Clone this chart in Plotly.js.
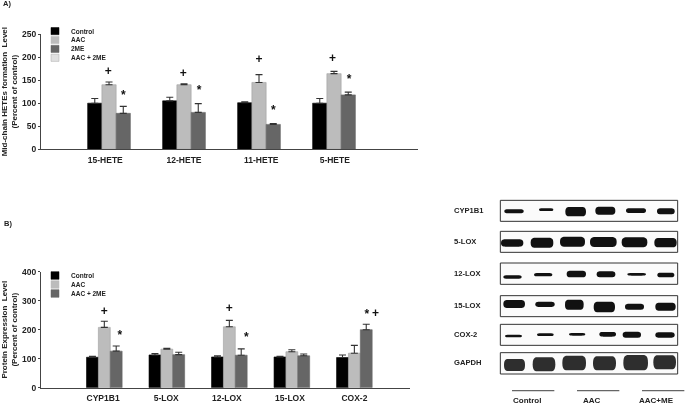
<!DOCTYPE html>
<html>
<head>
<meta charset="utf-8">
<script src="https://cdn.plot.ly/plotly-3.0.1.min.js"></script>
<style>
html,body{margin:0;padding:0;background:#fff}
/* the reference is a soft scan */
#chart{filter:blur(0.35px)}
</style>
</head>
<body>
<div id="chart" style="width:685px;height:404px"></div>
<script>
// panel A
const hetes = ["15-HETE", "12-HETE", "11-HETE", "5-HETE"];
const hetesTickAt = [-0.05, 0, 0.03, 0.01];
const hetesControl = [100, 105, 101, 100];
const hetesControlErr = [10, 8, 2, 10];
const hetesAAC = [140, 140, 145, 164];
const hetesAACErr = [6, 2, 17, 5];
const hetes2ME = [78, 80, 54, 118];
const hetes2MEErr = [15, 19, 2, 6];
const hetesLegend = ["Control", "AAC", "2ME", "AAC + 2ME"];
const hetesPlusX = [-0.01, -0.01, 0, -0.02];
const hetesPlusY = [168, 163, 194, 195];
const hetesStarX = [0.19, 0.2, 0.19, 0.2];
const hetesStarY = [116, 127, 82, 151];

// panel B
const proteins = ["CYP1B1", "5-LOX", "12-LOX", "15-LOX", "COX-2"];
const proteinsTickAt = [-0.02, -0.01, -0.04, -0.03, 0];
const protControl = [105, 113, 106, 106, 104];
const protControlErr = [3, 5, 4, 2, 9];
const protAAC = [208, 133, 210, 124, 119];
const protAACErr = [21, 3, 22, 7, 27];
const protAAC2ME = [126, 114, 112, 110, 200];
const protAAC2MEErr = [18, 8, 22, 6, 19];
const protLegend = ["Control", "AAC", "AAC + 2ME"];
const protPlusGroup = [0, 2, 4];
const protPlusX = [0, 0, 0.34];
const protPlusY = [260, 271, 255];
const protStarGroup = [0, 2, 4];
const protStarX = [0.25, 0.27, 0.2];
const protStarY = [179, 172, 250];

// blots, read in the blot panel's own units
const blotRows = ["CYP1B1", "5-LOX", "12-LOX", "15-LOX", "COX-2", "GAPDH"];
const blotGroups = ["Control", "AAC", "AAC+ME"];
const blotRowTop = [61, 154, 249, 347, 433, 518];
const blotRowBottom = [124, 217, 313, 410, 496, 582];
const bandLeft = [
  [193, 297, 376, 466, 558, 651],
  [183, 272, 360, 450, 545, 643],
  [190, 282, 380, 470, 562, 652],
  [190, 286, 375, 461, 555, 646],
  [195, 291, 387, 478, 548, 646],
  [192, 278, 367, 459, 550, 640]
];
const bandRight = [
  [251, 340, 438, 526, 618, 704],
  [250, 340, 435, 530, 622, 710],
  [245, 337, 438, 526, 618, 703],
  [255, 344, 431, 525, 612, 707],
  [246, 341, 436, 528, 603, 704],
  [255, 346, 438, 528, 624, 708]
];
const bandMid = [
  [94, 89, 95, 92, 92, 94],
  [189, 188, 185, 186, 187, 188],
  [291, 284, 282, 283, 283, 285],
  [372, 373, 374, 381, 380, 380],
  [468, 464, 463, 463, 464, 465],
  [555, 553, 549, 550, 548, 547]
];
const bandThick = [
  [12, 8, 28, 24, 14, 18],
  [22, 30, 30, 30, 30, 28],
  [10, 10, 20, 18, 8, 14],
  [24, 16, 30, 32, 18, 24],
  [8, 8, 8, 14, 18, 16],
  [36, 42, 44, 42, 46, 42]
];

const colors = ["#000000", "#bcbcbc", "#666666", "#e0e0e0"];
const textColor = "#222222";
const boldFont = "Liberation Sans";
const W = 685, H = 404;

function barTrace(name, xs, ys, errs, color, xa, ya, capW) {
  return {
    type: "bar", name: name, x: xs, y: ys, xaxis: xa, yaxis: ya,
    marker: { color: color, line: { color: color === "#bcbcbc" ? "#a0a0a0" : color, width: 0.6 } },
    error_y: { type: "data", symmetric: false, array: errs, arrayminus: errs.map(() => 0),
      color: "#333333", thickness: 1.1, width: capW },
    showlegend: false, hoverinfo: "skip"
  };
}

function markTrace(mark, xs, ys, xa, ya) {
  return {
    type: "scatter", mode: "text", x: xs, y: ys, text: xs.map(() => mark), xaxis: xa, yaxis: ya,
    textposition: "middle center", cliponaxis: false,
    textfont: { family: boldFont, size: 12, color: "#111111", weight: 700 },
    showlegend: false, hoverinfo: "skip"
  };
}

const groupsA = hetes.map((_, i) => i);
const groupsB = proteins.map((_, i) => i);

const data = [
  barTrace("Control", groupsA, hetesControl, hetesControlErr, colors[0], "x", "y", 3.5),
  barTrace("AAC", groupsA, hetesAAC, hetesAACErr, colors[1], "x", "y", 3.5),
  barTrace("2ME", groupsA, hetes2ME, hetes2MEErr, colors[2], "x", "y", 3.5),
  markTrace("+", groupsA.map((g, i) => g + hetesPlusX[i]), hetesPlusY, "x", "y"),
  markTrace("*", groupsA.map((g, i) => g + hetesStarX[i]), hetesStarY, "x", "y"),

  barTrace("Control", groupsB, protControl, protControlErr, colors[0], "x2", "y2", 3.5),
  barTrace("AAC", groupsB, protAAC, protAACErr, colors[1], "x2", "y2", 3.5),
  barTrace("AAC + 2ME", groupsB, protAAC2ME, protAAC2MEErr, colors[2], "x2", "y2", 3.5),
  markTrace("+", protPlusGroup.map((g, i) => g + protPlusX[i]), protPlusY, "x2", "y2"),
  markTrace("*", protStarGroup.map((g, i) => g + protStarX[i]), protStarY, "x2", "y2"),

  // keeps the blot axes alive, the bands themselves are shapes
  { type: "scatter", mode: "markers", x: [0], y: [0], xaxis: "x3", yaxis: "y3",
    marker: { opacity: 0 }, showlegend: false, hoverinfo: "skip" }
];

function yTitle(text) {
  return { text: text, font: { family: boldFont, size: 8, color: textColor, weight: 700 }, standoff: 6 };
}

const axisBase = {
  showgrid: false, zeroline: false, showline: true, linecolor: "#444444", linewidth: 1.2,
  tickfont: { family: boldFont, size: 8.5, color: textColor, weight: 700 }
};

const shapes = [];
const annotations = [];

function label(text, x, y, size, anchor, xref, yref) {
  annotations.push({
    text: text, x: x, y: y, xref: xref || "paper", yref: yref || "paper",
    xanchor: anchor || "left", yanchor: "middle", showarrow: false,
    font: { family: boldFont, size: size, color: textColor, weight: 700 }
  });
}

// hand built legends, the swatches are square in the picture
function legend(names, swatchTop, step, swatchH) {
  names.forEach((n, i) => {
    const top = swatchTop + i * step;
    shapes.push({ type: "rect", xref: "paper", yref: "paper",
      x0: 51 / W, x1: 59 / W, y0: 1 - top / H, y1: 1 - (top + swatchH) / H,
      fillcolor: colors[i], line: { color: colors[i] === "#e0e0e0" ? "#aaaaaa" : colors[i], width: 0.5 } });
    label(n, 69 / W, 1 - (top + swatchH / 2) / H, 6.5);
  });
}
legend(hetesLegend, 27.5, 8.9, 7.2);
legend(protLegend, 271.7, 9, 7.6);

label("A)", 1 / W, 1 - 3.5 / H, 7.5);
label("B)", 2 / W, 1 - 223.5 / H, 7.5);

// blunt ended band, an ellipse comes out too pointed
function bandPath(l, r, mid, thick) {
  const t = mid - thick / 2, b = mid + thick / 2, k = (r - l) * 0.12;
  return `M${l},${mid} C${l},${t} ${l + k},${t} ${l + 2 * k},${t} L${r - 2 * k},${t} C${r - k},${t} ${r},${t} ${r},${mid} ` +
    `C${r},${b} ${r - k},${b} ${r - 2 * k},${b} L${l + 2 * k},${b} C${l + k},${b} ${l},${b} ${l},${mid} Z`;
}

// blot panel
blotRows.forEach((row, r) => {
  shapes.push({ type: "rect", xref: "x3", yref: "y3", x0: 181, x1: 713,
    y0: blotRowTop[r], y1: blotRowBottom[r], fillcolor: "#fbfbfb",
    line: { color: "#333333", width: 1 } });
  bandLeft[r].forEach((left, b) => {
    shapes.push({ type: "path", xref: "x3", yref: "y3",
      path: bandPath(left, bandRight[r][b], bandMid[r][b], bandThick[r][b]),
      fillcolor: row === "GAPDH" ? "#2e2e2e" : "#111111", line: { width: 0 } });
  });
  label(row, 36, (blotRowTop[r] + blotRowBottom[r]) / 2 - 2, 7.6, "left", "x3", "y3");
});
blotGroups.forEach((g, i) => {
  const left = 216 + i * 195;
  shapes.push({ type: "line", xref: "x3", yref: "y3", x0: left, x1: left + 127, y0: 632, y1: 632,
    line: { color: "#666666", width: 1.2 } });
  label(g, left + 44, 661, 8, "center", "x3", "y3");
});

const layout = {
  width: W, height: H,
  margin: { l: 0, r: 0, t: 0, b: 0 },
  paper_bgcolor: "#ffffff", plot_bgcolor: "rgba(0,0,0,0)",
  barmode: "group", bargap: 0.43, bargroupgap: 0,
  showlegend: false,
  xaxis: Object.assign({}, axisBase, {
    domain: [41 / W, 418 / W], anchor: "y", range: [-0.907, 4.12],
    tickmode: "array", tickvals: hetesTickAt.map((d, i) => i + d), ticktext: hetes,
    ticks: "outside", ticklen: 2, tickcolor: "rgba(0,0,0,0)"
  }),
  yaxis: Object.assign({}, axisBase, {
    domain: [1 - 149.3 / H, 1 - 34 / H], anchor: "x", range: [0, 250],
    tickvals: [0, 50, 100, 150, 200, 250], ticks: "outside", ticklen: 2, tickwidth: 1, tickcolor: "#444444",
    title: yTitle("Mid-chain HETEs formation  Level<br>(Percent of control)")
  }),
  xaxis2: Object.assign({}, axisBase, {
    domain: [41 / W, 410 / W], anchor: "y2", range: [-1.013, 4.89],
    tickmode: "array", tickvals: proteinsTickAt.map((d, i) => i + d), ticktext: proteins,
    ticks: "outside", ticklen: 2, tickcolor: "rgba(0,0,0,0)"
  }),
  yaxis2: Object.assign({}, axisBase, {
    domain: [1 - 387.7 / H, 1 - 271.7 / H], anchor: "x2", range: [0, 400],
    tickvals: [0, 100, 200, 300, 400], ticks: "outside", ticklen: 2, tickwidth: 1, tickcolor: "#444444",
    title: yTitle("Protein Expression  Level<br>(Percent of control)")
  }),
  xaxis3: { domain: [440 / W, 1], anchor: "y3", range: [0, 735], visible: false, fixedrange: true },
  yaxis3: { domain: [0, 1 - 180 / H], anchor: "x3", range: [672, 0], visible: false, fixedrange: true },
  shapes: shapes,
  annotations: annotations
};

Plotly.newPlot("chart", data, layout, { displayModeBar: false, responsive: false });
</script>
</body>
</html>
